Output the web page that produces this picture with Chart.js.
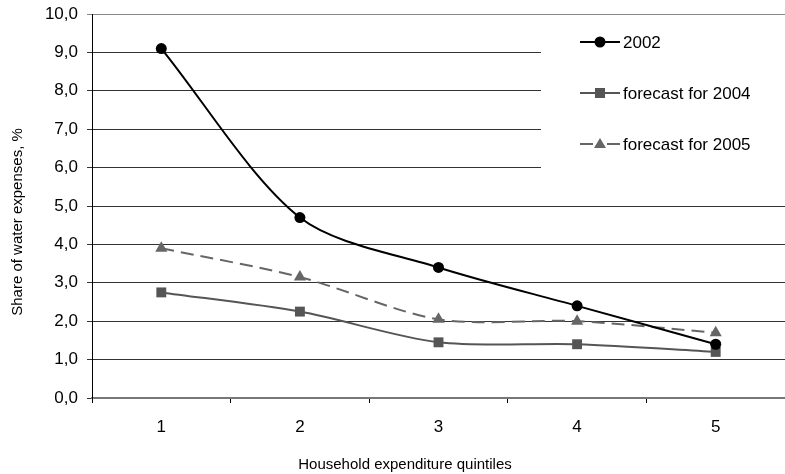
<!DOCTYPE html>
<html>
<head>
<meta charset="utf-8">
<script src="https://cdn.jsdelivr.net/npm/chart.js@4"></script>
<style>
  html, body { margin: 0; padding: 0; background: #fff; overflow: hidden; }
  canvas { display: block; }
</style>
</head>
<body>
<canvas id="myChart" width="785" height="474"></canvas>
<script>
const quintiles = ["1", "2", "3", "4", "5"];
const share2002 = [9.1, 4.7, 3.4, 2.4, 1.4];
const forecast2004 = [2.75, 2.25, 1.45, 1.4, 1.2];
const forecast2005 = [3.9, 3.15, 2.05, 2.0, 1.7];

const xTitle = "Household expenditure quintiles";
const yTitle = "Share of water expenses, %";

const FONT = "'Liberation Sans', Arial, sans-serif";

// white legend box + legend with line through marker, and both axis titles
const legendBox = {
  id: "legendBox",
  beforeDatasetsDraw(chart) {
    const c = chart.ctx;
    c.save();
    c.fillStyle = "#fff";
    c.fillRect(541, 18, 244, 156);
    c.restore();
  },
  afterDraw(chart) {
    const c = chart.ctx;
    const items = chart.data.datasets;
    c.save();
    items.forEach((ds, i) => {
      const y = 42 + i * 51;
      c.strokeStyle = ds.borderColor;
      c.lineWidth = 2;
      if (ds.borderDash) {
        c.beginPath(); c.moveTo(580, y); c.lineTo(593, y); c.stroke();
        c.beginPath(); c.moveTo(607, y); c.lineTo(620, y); c.stroke();
      } else {
        c.beginPath(); c.moveTo(580, y); c.lineTo(620, y); c.stroke();
      }
      c.fillStyle = ds.pointBackgroundColor;
      const x = 600;
      c.beginPath();
      if (ds.pointStyle === "circle") {
        c.arc(x, y, 5.5, 0, Math.PI * 2);
      } else if (ds.pointStyle === "rect") {
        c.rect(x - 5, y - 5, 10, 10);
      } else {
        c.moveTo(x, y - 6); c.lineTo(x + 6, y + 4); c.lineTo(x - 6, y + 4); c.closePath();
      }
      c.fill();
      c.fillStyle = "#000";
      c.font = "17px " + FONT;
      c.textBaseline = "middle";
      c.fillText(ds.label, 623, y + 1);
    });

    c.font = "15px " + FONT;
    c.textAlign = "center";
    c.textBaseline = "middle";
    c.fillText(xTitle, 405, 465);
    c.translate(18, 222);
    c.rotate(-Math.PI / 2);
    c.fillText(yTitle, 0, 0);
    c.restore();
  }
};

const ctx = document.getElementById("myChart").getContext("2d");

new Chart(ctx, {
  type: "line",
  data: {
    labels: quintiles,
    datasets: [
      {
        label: "2002",
        data: share2002,
        borderColor: "#000",
        pointBackgroundColor: "#000",
        pointStyle: "circle",
        pointRadius: 5.5,
        pointBorderWidth: 0,
        borderWidth: 2,
        tension: 0.3,
      },
      {
        label: "forecast for 2004",
        data: forecast2004,
        borderColor: "#555",
        pointBackgroundColor: "#555",
        pointStyle: "rect",
        pointRadius: 7,
        pointBorderWidth: 0,
        borderWidth: 2,
        tension: 0.3,
      },
      {
        label: "forecast for 2005",
        data: forecast2005,
        borderColor: "#666",
        pointBackgroundColor: "#666",
        pointStyle: "triangle",
        pointRadius: 7,
        pointBorderWidth: 0,
        borderWidth: 2,
        borderDash: [13, 7],
        tension: 0.3,
      },
    ],
  },
  options: {
    responsive: false,
    animation: false,
    layout: { autoPadding: false, padding: { top: 14, right: 0, left: 0, bottom: 0 } },
    scales: {
      x: {
        offset: true,
        afterFit: (s) => { s.height = 76; },
        grid: {
          offset: true,
          drawOnChartArea: false,
          drawTicks: true,
          tickLength: 5,
          color: "#000",
        },
        border: { color: "#777", width: 2 },
        ticks: { color: "#000", font: { family: FONT, size: 17 }, padding: 14 },
      },
      y: {
        min: 0,
        max: 10,
        afterFit: (s) => { s.width = 92; s.paddingTop = 0; s.paddingBottom = 0; },
        grid: {
          color: (c) => (c.tick && c.tick.value === 10 ? "#888" : "#333"),
          tickLength: 5,
          lineWidth: 1,
        },
        border: { color: "#000", width: 1 },
        ticks: {
          stepSize: 1,
          color: "#000",
          font: { family: FONT, size: 17 },
          padding: 9,
          callback: (v) => v.toFixed(1).replace(".", ","),
        },
      },
    },
    plugins: {
      legend: { display: false },
      tooltip: { enabled: false },
    },
  },
  plugins: [legendBox],
});
</script>
</body>
</html>
